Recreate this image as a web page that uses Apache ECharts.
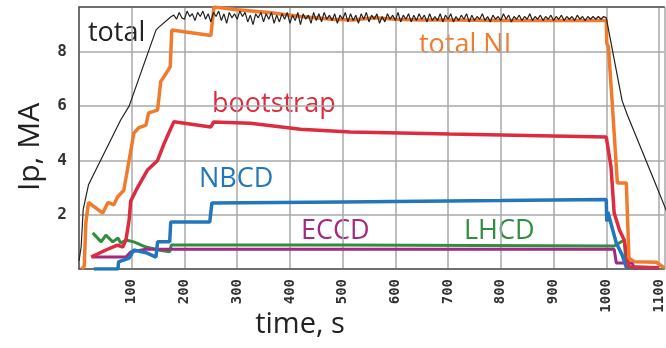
<!DOCTYPE html>
<html>
<head>
<meta charset="utf-8">
<script src="https://cdn.jsdelivr.net/npm/echarts@6/dist/echarts.min.js"></script>
<style>
  html, body { margin: 0; padding: 0; background: #fff; }
  #chart { width: 666px; height: 348px; }
</style>
</head>
<body>
<div id="chart"></div>
<script>
// time (s) and current (MA) for each trace
const totalT = [0, 4, 8, 18, 79, 95, 146, 151, 175,
  180, 185, 190, 195, 200, 205, 210, 215, 220, 225, 230, 235, 240, 245, 250, 255, 260, 265, 270, 275,
  280, 285, 290, 295, 300, 305, 310, 315, 320, 325, 330, 335, 340, 345, 350, 355, 360, 365, 370, 375,
  380, 385, 390, 395, 400, 405, 410, 415, 420, 425, 430, 435, 440, 445, 450, 455, 460, 465, 470, 475,
  480, 485, 490, 495, 500, 505, 510, 515, 520, 525, 530, 535, 540, 545, 550, 555, 560, 565, 570, 575,
  580, 585, 590, 595, 600, 605, 610, 615, 620, 625, 630, 635, 640, 645, 650, 655, 660, 665, 670, 675,
  680, 685, 690, 695, 700, 705, 710, 715, 720, 725, 730, 735, 740, 745, 750, 755, 760, 765, 770, 775,
  780, 785, 790, 795, 800, 805, 810, 815, 820, 825, 830, 835, 840, 845, 850, 855, 860, 865, 870, 875,
  880, 885, 890, 895, 900, 905, 910, 915, 920, 925, 930, 935, 940, 945, 950, 955, 960, 965, 970, 975,
  980, 985, 990, 995, 1000,
  1030, 1040, 1091, 1115]
const totalIp = [0.3, 0.8, 2.2, 3.1, 5.49, 6.0, 8.8, 8.9, 9.3,
  9.35, 9.2, 9.45, 9.25, 9.2, 9.5, 9.3, 9.4, 9.15, 9.45, 9.3, 9.5, 9.2, 9.4, 9.1, 9.45, 9.3, 9.5, 9.15, 9.4,
  9.05, 9.45, 9.25, 9.4, 9.2, 9.5, 9.3, 9.45, 9.1, 9.35, 9.0, 9.4, 9.25, 9.45, 9.1, 9.4, 9.2, 9.45, 9.05, 9.35,
  9.1, 9.4, 9.2, 9.45, 9.05, 9.35, 9.15, 9.45, 9.0, 9.4, 9.2, 9.35, 9.05, 9.45, 9.15, 9.4, 9.1, 9.45, 9.2, 9.35,
  9.15, 9.4, 9.05, 9.35, 9.2, 9.45, 9.1, 9.4, 9.15, 9.35, 9.05, 9.4, 9.2, 9.45, 9.1, 9.35, 9.2, 9.4, 9.05, 9.3,
  9.1, 9.4, 9.2, 9.35, 9.15, 9.45, 9.1, 9.35, 9.2, 9.4, 9.1, 9.35, 9.15, 9.4, 9.2, 9.35, 9.1, 9.4, 9.15, 9.3,
  9.15, 9.4, 9.1, 9.35, 9.2, 9.4, 9.1, 9.3, 9.15, 9.35, 9.2, 9.4, 9.1, 9.35, 9.15, 9.3, 9.2, 9.4, 9.15, 9.3,
  9.1, 9.35, 9.2, 9.3, 9.15, 9.4, 9.2, 9.35, 9.1, 9.3, 9.2, 9.35, 9.15, 9.3, 9.2, 9.4, 9.15, 9.3, 9.2, 9.35,
  9.15, 9.3, 9.2, 9.35, 9.15, 9.3, 9.2, 9.35, 9.15, 9.3, 9.2, 9.3, 9.15, 9.35, 9.2, 9.3, 9.15, 9.3, 9.2, 9.3,
  9.2, 9.3, 9.2, 9.3, 9.25,
  6.2, 5.67, 3.25, 2.1]

const niT = [5, 10, 13, 18, 45, 55, 66, 73, 85, 104, 113, 127, 132, 149, 155, 165, 173, 176, 250, 256,
  300, 360, 420, 480, 520, 560, 600, 650, 700, 800, 900, 1000, 1001, 1004, 1011, 1021, 1038, 1043, 1053, 1095, 1110]
const niIp = [0, 0.1, 1.7, 2.45, 2.06, 2.45, 2.36, 2.65, 2.9, 5.0, 5.2, 5.3, 5.75, 5.85, 6.9, 7.2, 7.45, 8.8, 8.6, 9.65,
  9.55, 9.45, 9.3, 9.2, 9.17, 9.25, 9.2, 9.17, 9.17, 9.15, 9.15, 9.15, 8.3, 8.2, 6.2, 3.17, 3.17, 0.4, 0.27, 0.25, 0.04]

const bsT = [23, 51, 73, 83, 89, 95, 98, 111, 130, 149, 161, 170, 180, 250, 255, 325, 420, 514, 703, 850,
  1000, 1009, 1015, 1025, 1034, 1043, 1100]
const bsIp = [0.44, 0.7, 0.88, 0.81, 1.07, 1.8, 2.5, 3.0, 3.65, 4.0, 4.6, 5.0, 5.42, 5.23, 5.41, 5.37, 5.15, 5.05, 4.97, 4.92,
  4.86, 3.76, 2.06, 1.44, 1.07, 0.07, 0.05]

const nbT = [28, 74, 75, 95, 104, 127, 146, 149, 172, 174, 248, 252, 500, 800, 1000, 1001, 1003, 1019, 1030, 1038, 1100]
const nbIp = [0, 0, 0.26, 0.4, 0.7, 0.6, 0.44, 1.0, 1.0, 1.73, 1.73, 2.43, 2.47, 2.52, 2.56, 1.75, 2.1, 0.96, 0.52, 0.07, 0.04]

const lhT = [26, 42, 51, 64, 74, 79, 89, 104, 127, 151, 172, 175, 500, 1015, 1034, 1038, 1100]
const lhIp = [1.33, 1.0, 1.25, 1.0, 1.14, 0.96, 1.07, 1.0, 0.81, 0.7, 0.63, 0.88, 0.88, 0.85, 1.07, 0.04, 0.04]

const ecT = [26, 89, 98, 127, 1015, 1019, 1049, 1053, 1100]
const ecIp = [0.44, 0.44, 0.63, 0.73, 0.73, 0.22, 0.22, 0.04, 0.04]

const xTicks = ['100', '200', '300', '400', '500', '600', '700', '800', '900', '1000', '1100']
const yTicks = ['2', '4', '6', '8']

function pairs (t, v) {
  return t.map(function (x, i) { return [x, v[i]] })
}

const tickFont = 'DejaVu Sans Mono'

const myChart = echarts.init(document.getElementById('chart'))
const option = {
  animation: false,
  grid: { left: 79, right: 0, top: 7, bottom: 79 },
  xAxis: [
    {
      type: 'value',
      min: 0,
      max: 1110,
      interval: 100,
      axisLine: { lineStyle: { color: '#555', width: 1.5 } },
      axisTick: { show: false },
      splitLine: { lineStyle: { color: '#a8a8a8', width: 1.5 } },
      axisLabel: {
        rotate: 90,
        margin: 10,
        color: '#333',
        fontFamily: tickFont,
        fontWeight: 'bold',
        fontSize: 14,
        formatter: function (v) {
          return xTicks.indexOf(String(v)) >= 0 ? String(v) : ''
        }
      }
    },
    {
      type: 'value',
      position: 'top',
      min: 0,
      max: 1110,
      axisLine: { show: true, lineStyle: { color: '#555', width: 1.5 } },
      axisTick: { show: false },
      axisLabel: { show: false },
      splitLine: { show: false }
    }
  ],
  yAxis: {
    type: 'value',
    min: 0,
    max: 9.65,
    interval: 2,
    axisLine: { show: true, lineStyle: { color: '#555', width: 1.5 } },
    axisTick: { show: false },
    splitLine: { lineStyle: { color: '#a8a8a8', width: 1.5 } },
    axisLabel: {
      margin: 12,
      color: '#333',
      fontFamily: tickFont,
      fontWeight: 'bold',
      fontSize: 16,
      formatter: function (v) {
        return yTicks.indexOf(String(v)) >= 0 ? String(v) : ''
      }
    }
  },
  graphic: [
    { type: 'text', x: 30, y: 147, rotation: Math.PI / 2,
      style: { text: 'Ip, MA', font: '30px "Open Sans"', fill: '#222', align: 'center', verticalAlign: 'middle' } },
    { type: 'text', x: 300, y: 325,
      style: { text: 'time, s', font: '29px "Open Sans"', fill: '#222', align: 'center', verticalAlign: 'middle' } },
    { type: 'text', x: 88, y: 33,
      style: { text: 'total', font: '27px "Open Sans"', fill: '#222', verticalAlign: 'middle' } },
    { type: 'text', x: 419, y: 45,
      style: { text: 'total NI', font: '27px "Open Sans"', fill: '#f07b2d', verticalAlign: 'middle' } },
    { type: 'text', x: 212, y: 104,
      style: { text: 'bootstrap', font: '27px "Open Sans"', fill: '#dd2b3f', verticalAlign: 'middle' } },
    { type: 'text', x: 199, y: 179,
      style: { text: 'NBCD', font: '27px "Open Sans"', fill: '#2277bb', verticalAlign: 'middle' } },
    { type: 'text', x: 301, y: 231,
      style: { text: 'ECCD', font: '27px "Open Sans"', fill: '#a3287f', verticalAlign: 'middle' } },
    { type: 'text', x: 464, y: 231,
      style: { text: 'LHCD', font: '27px "Open Sans"', fill: '#2f8f3f', verticalAlign: 'middle' } }
  ],
  series: [
    { name: 'LHCD', type: 'line', data: pairs(lhT, lhIp), showSymbol: false,
      lineStyle: { color: '#2f8f3f', width: 3 } },
    { name: 'ECCD', type: 'line', data: pairs(ecT, ecIp), showSymbol: false,
      lineStyle: { color: '#a3287f', width: 3 } },
    { name: 'NBCD', type: 'line', data: pairs(nbT, nbIp), showSymbol: false,
      lineStyle: { color: '#2277bb', width: 3.5 } },
    { name: 'bootstrap', type: 'line', data: pairs(bsT, bsIp), showSymbol: false,
      lineStyle: { color: '#dd2b3f', width: 3.5 } },
    { name: 'total NI', type: 'line', data: pairs(niT, niIp), showSymbol: false,
      lineStyle: { color: '#f07b2d', width: 3.5 } },
    { name: 'total', type: 'line', data: pairs(totalT, totalIp), showSymbol: false,
      lineStyle: { color: '#222', width: 1.2 } }
  ]
}
myChart.setOption(option)
</script>
</body>
</html>
